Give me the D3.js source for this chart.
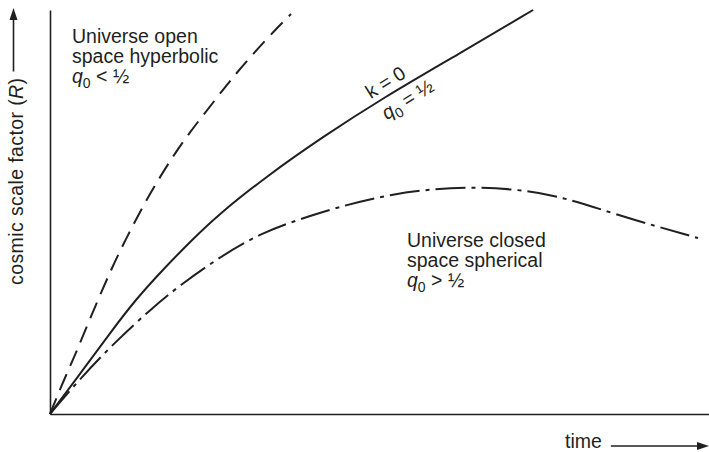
<!DOCTYPE html>
<html>
<head>
<meta charset="utf-8">
<script src="https://cdn.jsdelivr.net/npm/d3@7"></script>
<style>
  body { margin: 0; background: #fff; }
  svg { display: block; font-family: "Liberation Sans", Arial, sans-serif; }
</style>
</head>
<body>
<div id="chart"></div>
<script>
// Values. Time and R are in arbitrary units (0-100).
const openTime = [0, 1.97, 3.95, 5.77, 9.56, 11.68, 13.96, 16.39, 18.97, 21.7, 25.04, 27.77, 30.96, 34.29, 36.57];
const openR = [0, 7.92, 15.1, 22.5, 36.9, 43.8, 51.0, 57.9, 64.6, 70.8, 77.7, 83.4, 89.4, 95.3, 99.0];

const flatTime = [0, 5.0, 9.1, 12.9, 17.8, 21.7, 25.3, 32.9, 41.4, 50.5, 61.9, 73.3];
const flatR = [0, 10.9, 20.0, 28.2, 36.9, 43.3, 49.0, 58.9, 68.6, 78.2, 89.0, 100];

const closedTime = [0, 4.1, 9.86, 15.17, 19.73, 25.8, 31.87, 40.52, 51.59, 64.19, 76.33, 85.43, 98.33];
const closedR = [0, 7.92, 17.82, 25.74, 31.93, 38.86, 44.8, 49.75, 54.7, 56.68, 54.7, 49.5, 43.56];

const width = 709;
const height = 452;
const margin = { top: 10, right: 0, bottom: 38, left: 50 };
const ink = "#231f20";
const fontSize = 19.5;

const svg = d3
  .select("#chart")
  .append("svg")
  .attr("width", width)
  .attr("height", height);

const x = d3.scaleLinear().domain([0, 100]).range([margin.left, width - margin.right]);
const y = d3.scaleLinear().domain([0, 100]).range([height - margin.bottom, margin.top]);

// Axes: plain lines, no ticks
svg
  .append("g")
  .attr("transform", "translate(0," + y(0) + ")")
  .call(d3.axisBottom(x).tickValues([]).tickSizeOuter(0))
  .call((g) => g.select(".domain").attr("stroke", ink).attr("stroke-width", 1.6));

svg
  .append("g")
  .attr("transform", "translate(" + x(0) + ",0)")
  .call(d3.axisLeft(y).tickValues([]).tickSizeOuter(0))
  .call((g) => g.select(".domain").attr("stroke", ink).attr("stroke-width", 1.6));

// The three curves (basis spline smooths the hand-read points)
const line = d3
  .line()
  .x((d) => x(d[0]))
  .y((d) => y(d[1]))
  .curve(d3.curveBasis);

const curves = [
  { time: openTime, r: openR, dash: "17,9" },
  { time: flatTime, r: flatR, dash: null },
  { time: closedTime, r: closedR, dash: "30,6,4,6" },
];

svg
  .selectAll(".curve")
  .data(curves)
  .enter()
  .append("path")
  .attr("class", "curve")
  .attr("d", (d) => line(d3.zip(d.time, d.r)))
  .attr("fill", "none")
  .attr("stroke", ink)
  .attr("stroke-width", 2)
  .attr("stroke-dasharray", (d) => d.dash);

// helper for the "q0 < 1/2" style labels
function qLabel(text, rest) {
  text.append("tspan").attr("font-style", "italic").text("q");
  text.append("tspan").attr("font-size", 14).attr("dy", 5).text("0");
  text.append("tspan").attr("dy", -5).attr("fill", ink).text(rest);
}

function block(x0, y0, lines, rest) {
  const g = svg
    .append("g")
    .attr("font-size", fontSize)
    .attr("fill", ink);
  lines.forEach((l, i) => {
    g.append("text").attr("x", x0).attr("y", y0 + i * 20).text(l);
  });
  const t = g.append("text").attr("x", x0).attr("y", y0 + lines.length * 20);
  qLabel(t, rest);
}

block(72, 43, ["Universe open", "space hyperbolic"], " < ½");
block(407, 246.5, ["Universe closed", "space spherical"], " > ½");

// labels along the k = 0 line
svg
  .append("text")
  .attr("transform", "translate(389,88) rotate(-32)")
  .attr("text-anchor", "middle")
  .attr("font-size", fontSize)
  .attr("fill", ink)
  .text("k = 0");

const qFlat = svg
  .append("text")
  .attr("transform", "translate(411,105) rotate(-32)")
  .attr("text-anchor", "middle")
  .attr("font-size", fontSize)
  .attr("fill", ink);
qLabel(qFlat, " = ½");

// y axis title with arrow
const yTitle = svg
  .append("text")
  .attr("transform", "translate(23,285) rotate(-90)")
  .attr("font-size", fontSize)
  .attr("letter-spacing", 0.4)
  .attr("fill", ink);
yTitle.append("tspan").text("cosmic scale factor (");
yTitle.append("tspan").attr("font-style", "italic").text("R");
yTitle.append("tspan").text(")");

const yEnd = 285 - yTitle.node().getComputedTextLength();
svg
  .append("line")
  .attr("x1", 13.5)
  .attr("x2", 13.5)
  .attr("y1", yEnd - 6)
  .attr("y2", 18)
  .attr("stroke", ink)
  .attr("stroke-width", 1.6);
svg
  .append("path")
  .attr("d", "M13.5,8L17.5,20L9.5,20Z")
  .attr("fill", ink);

// x axis title with arrow
const xTitle = svg
  .append("text")
  .attr("x", 565)
  .attr("y", 448)
  .attr("font-size", fontSize)
  .attr("fill", ink)
  .text("time");

const xEnd = 565 + xTitle.node().getComputedTextLength();
svg
  .append("line")
  .attr("x1", xEnd + 9)
  .attr("x2", 700)
  .attr("y1", 446)
  .attr("y2", 446)
  .attr("stroke", ink)
  .attr("stroke-width", 1.6);
svg
  .append("path")
  .attr("d", "M709,446L697,442L697,450Z")
  .attr("fill", ink);
</script>
</body>
</html>
